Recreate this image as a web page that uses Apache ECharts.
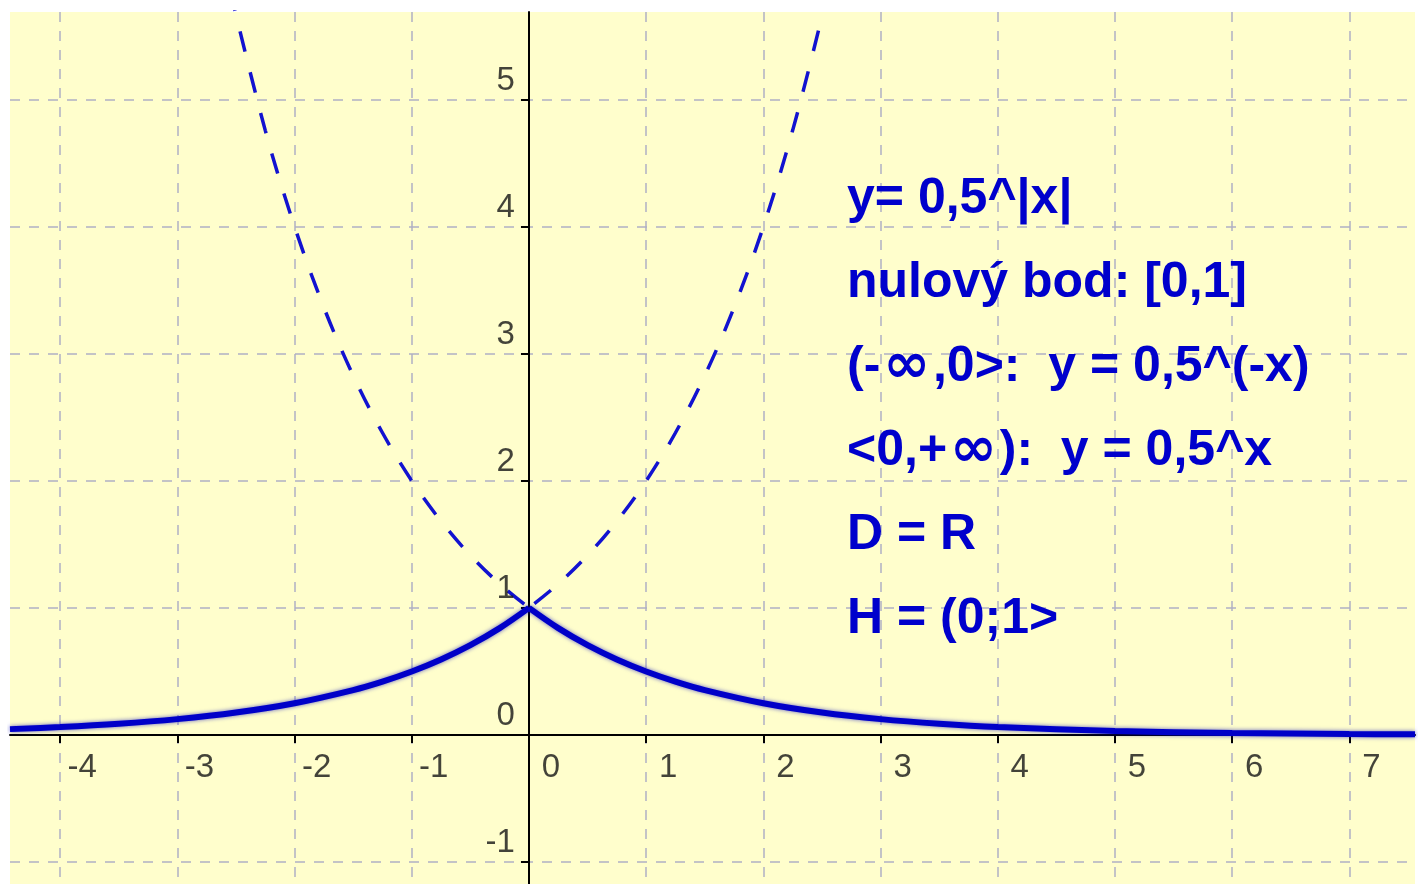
<!DOCTYPE html>
<html>
<head>
<meta charset="utf-8">
<script src="https://cdn.jsdelivr.net/npm/echarts@6/dist/echarts.min.js"></script>
<style>
html,body{margin:0;padding:0;background:#ffffff;}
#chart{width:1421px;height:884px;}
</style>
</head>
<body>
<div id="chart"></div>
<script>
// ---- data ----
const X_MIN = -4.428, X_MAX = 7.56;
const Y_MIN = -1.172, Y_MAX = 5.688;
const X_TICKS = [-4, -3, -2, -1, 0, 1, 2, 3, 4, 5, 6, 7];
const Y_TICKS = [-1, 0, 1, 2, 3, 4, 5];

// solid curve y = 0,5^|x| : left branch and right branch
const SOLID_LEFT = [
  [-4.428, 0.0464], [-4, 0.0625], [-3.5, 0.0884], [-3, 0.125], [-2.5, 0.1768],
  [-2, 0.25], [-1.5, 0.3536], [-1.25, 0.4204], [-1, 0.5], [-0.75, 0.5946],
  [-0.5, 0.7071], [-0.25, 0.8409], [0, 1]
];
const SOLID_RIGHT = [
  [0, 1], [0.25, 0.8409], [0.5, 0.7071], [0.75, 0.5946], [1, 0.5], [1.25, 0.4204],
  [1.5, 0.3536], [2, 0.25], [2.5, 0.1768], [3, 0.125], [3.5, 0.0884], [4, 0.0625],
  [5, 0.0313], [6, 0.0156], [7, 0.0078], [7.56, 0.0053]
];
// dashed (mirrored) parts
const DASH_LEFT = [
  [-2.55, 5.856], [-2.25, 4.757], [-2, 4], [-1.75, 3.364], [-1.5, 2.828],
  [-1.25, 2.378], [-1, 2], [-0.75, 1.682], [-0.5, 1.414], [-0.25, 1.189], [0, 1]
];
const DASH_RIGHT = [
  [2.47, 5.541], [2.25, 4.757], [2, 4], [1.75, 3.364], [1.5, 2.828],
  [1.25, 2.378], [1, 2], [0.75, 1.682], [0.5, 1.414], [0.25, 1.189], [0, 1]
];
const NOTE_LINES = [
  'y= 0,5^|x|',
  'nulový bod: [0,1]',
  '(-∞,0>:  y = 0,5^(-x)',
  '<0,+∞):  y = 0,5^x',
  'D = R',
  'H = (0;1>'
];

// ---- chart ----
const chart = echarts.init(document.getElementById('chart'), null, {renderer: 'canvas'});
const BLUE = '#0000c8';
const gridLine = {show: true, lineStyle: {color: '#b0b0c4', width: 1.5, type: [10, 9]}};
const FONT = 'Liberation Sans, Arial, sans-serif';

const solidStyle = {color: BLUE, width: 6, shadowColor: 'rgba(0,0,190,0.6)', shadowBlur: 4};
const dashStyle = {color: '#1212d0', width: 3.5, type: [21, 21]};

function lineSeries(data, style, z) {
  return {
    type: 'line', data: data, smooth: 0.35, showSymbol: false, symbol: 'none',
    lineStyle: style, itemStyle: {color: style.color}, z: z, silent: true, clip: true
  };
}

function tickLabelSeries(points, offset, align) {
  return {
    type: 'scatter', data: points, symbolSize: 1, silent: true, z: 5, clip: false,
    itemStyle: {color: 'rgba(0,0,0,0)'},
    label: {
      show: true, position: 'inside', offset: offset, align: align, verticalAlign: 'middle',
      fontFamily: FONT, fontSize: 33, color: '#141414',
      formatter: function (p) { return String(p.data[2]); }
    }
  };
}

const xLabelPts = X_TICKS.map(function (t) { return [t, 0, t]; });
const yLabelPts = Y_TICKS.map(function (t) { return [0, t, t]; });

function richLine(t) {
  // the infinity sign is drawn wider, as in the picture
  return t.split('∞').join('{inf|∞}');
}

chart.setOption({
  animation: false,
  backgroundColor: '#ffffff',
  grid: {
    left: 10, top: 12, width: 1405, height: 872, containLabel: false, outerBoundsMode: 'none',
    show: true, backgroundColor: '#fffecc', borderWidth: 0
  },
  xAxis: {
    type: 'value', min: X_MIN, max: X_MAX,
    axisLine: {onZero: true, lineStyle: {color: '#000', width: 2}},
    axisTick: {show: true, customValues: X_TICKS, length: 8, lineStyle: {color: '#000', width: 2}},
    axisLabel: {show: false, customValues: X_TICKS},
    splitLine: gridLine
  },
  yAxis: {
    type: 'value', min: Y_MIN, max: Y_MAX,
    axisLine: {onZero: true, lineStyle: {color: '#000', width: 2}},
    axisTick: {show: true, customValues: Y_TICKS, length: 8, lineStyle: {color: '#000', width: 2}},
    axisLabel: {show: false, customValues: Y_TICKS},
    splitLine: gridLine
  },
  series: [
    lineSeries(DASH_LEFT, dashStyle, 2),
    lineSeries(DASH_RIGHT, dashStyle, 2),
    lineSeries(SOLID_LEFT, solidStyle, 3),
    lineSeries(SOLID_RIGHT, solidStyle, 3),
    tickLabelSeries(xLabelPts, [22, 33], 'center'),
    tickLabelSeries(yLabelPts, [-14, -19], 'right')
  ],
  graphic: NOTE_LINES.map(function (t, i) {
    return {
      type: 'text', left: 847, top: 170 + i * 84, z: 10, silent: true,
      style: {
        text: richLine(t), fill: '#0000cc', fontFamily: FONT, fontWeight: 'bold', fontSize: 50,
        lineHeight: 58,
        rich: {inf: {fontFamily: 'DejaVu Sans', fontWeight: 'bold', fontSize: 56, fill: '#0000cc',
          lineHeight: 58, padding: [0, 3, 0, 3]}}
      }
    };
  })
});
</script>
</body>
</html>
